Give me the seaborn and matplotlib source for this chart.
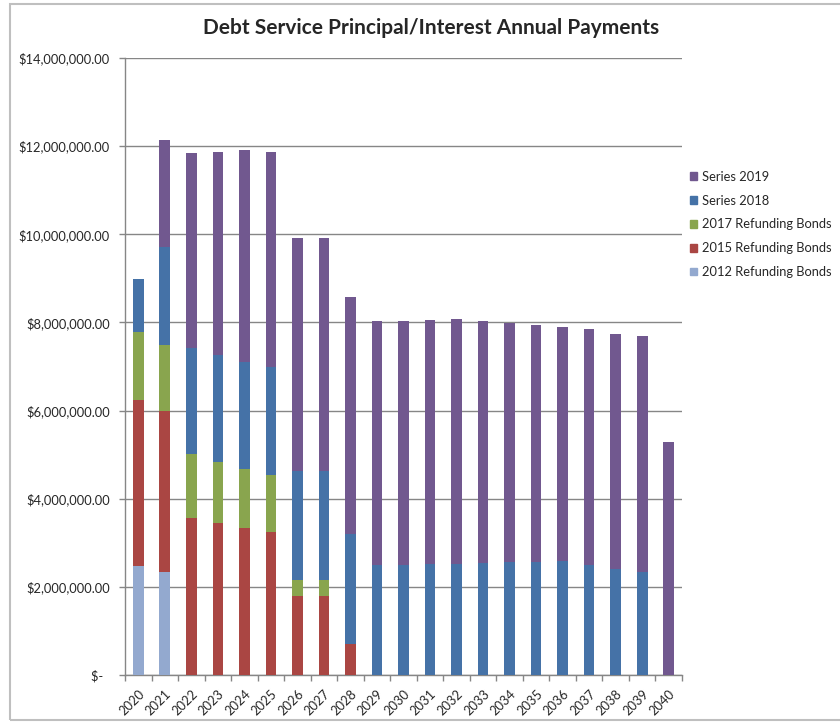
import numpy as np
import seaborn as sns
from matplotlib import pyplot as plt
from matplotlib.patches import Rectangle
from matplotlib.ticker import FuncFormatter, MultipleLocator

years = [str(y) for y in range(2020, 2041)]

# annual payments, $ millions
bonds_2012 = [2.47, 2.34, 0, 0, 0, 0, 0, 0, 0, 0, 0, 0, 0, 0, 0, 0, 0, 0, 0, 0, 0]
bonds_2015 = [3.76, 3.64, 3.56, 3.45, 3.34, 3.24, 1.79, 1.79, 0.71,
              0, 0, 0, 0, 0, 0, 0, 0, 0, 0, 0, 0]
bonds_2017 = [1.56, 1.50, 1.45, 1.39, 1.34, 1.29, 0.37, 0.36,
              0, 0, 0, 0, 0, 0, 0, 0, 0, 0, 0, 0, 0]
series_2018 = [1.19, 2.23, 2.41, 2.42, 2.43, 2.45, 2.46, 2.47, 2.49,
               2.50, 2.50, 2.52, 2.52, 2.55, 2.57, 2.57, 2.58, 2.50, 2.41, 2.33, 0]
series_2019 = [0, 2.44, 4.42, 4.60, 4.80, 4.88, 5.30, 5.30, 5.38,
               5.53, 5.54, 5.53, 5.55, 5.48, 5.42, 5.38, 5.32, 5.35, 5.32, 5.37, 5.29]

labels = ["2012 Refunding Bonds", "2015 Refunding Bonds", "2017 Refunding Bonds",
          "Series 2018", "Series 2019"]
colors = ["#93A9CF", "#AA4643", "#89A54E", "#4572A7", "#71588F"]

sns.set_style("white")
plt.rcParams['font.family'] = ['Lato', 'DejaVu Sans']

fig = plt.figure(figsize=(8.4, 7.23), dpi=100)
ax = fig.add_axes([0.1488, 0.0664, 0.6631, 0.8534])

stack = np.array([bonds_2012, bonds_2015, bonds_2017, series_2018, series_2019]) * 1e6
cum = stack.cumsum(axis=0)

# draw cumulative totals from the top down so each layer covers the one above
handles = []
for i in range(len(labels) - 1, -1, -1):
    sns.barplot(x=years, y=cum[i], color=colors[i], width=0.4, saturation=1,
                ax=ax, zorder=3, linewidth=0)
    handles.append(Rectangle((0, 0), 1, 1, color=colors[i], label=labels[i]))

ax.set_ylim(0, 14e6)
ax.set_xlim(-0.5, len(years) - 0.5)
ax.yaxis.set_major_locator(MultipleLocator(2e6))
ax.yaxis.set_major_formatter(FuncFormatter(
    lambda v, p: "$-  " if v == 0 else "${:,.2f}".format(v)))
ax.grid(axis='y', color='#868686', linewidth=1, zorder=0)
ax.set_axisbelow(True)

ax.set_xlabel("")
ax.set_ylabel("")
ax.tick_params(axis='y', length=4, width=1, color='#868686', labelsize=9.3, pad=7, left=True)
ax.tick_params(axis='x', which='major', length=0, labelsize=9.3, pad=9)
ax.set_xticks(np.arange(-0.5, len(years)), minor=True)
ax.tick_params(axis='x', which='minor', length=4, width=1, color='#868686', bottom=True)
for lab in ax.get_xticklabels():
    lab.set_rotation(45)
    lab.set_ha('right')
    lab.set_rotation_mode('anchor')

for side in ['top', 'right']:
    ax.spines[side].set_visible(False)
for side in ['left', 'bottom']:
    ax.spines[side].set_color('#868686')
    ax.spines[side].set_linewidth(1)

ax.legend(handles=handles, loc='upper left', bbox_to_anchor=(1.0, 0.83),
          frameon=False, fontsize=9.3, handlelength=0.55, handleheight=0.55,
          handletextpad=0.4, labelspacing=0.92, borderaxespad=0.2)

fig.text(0.513, 0.961, "Debt Service Principal/Interest Annual Payments",
         ha='center', va='center', fontsize=15, fontweight='bold')

fig.patches.append(Rectangle((10 / 840, 3 / 723), 1.0, 1 - 7 / 723,
                             transform=fig.transFigure, fill=False,
                             edgecolor='#BFBFBF', linewidth=1.5))

fig.savefig("out.png", dpi=100)
